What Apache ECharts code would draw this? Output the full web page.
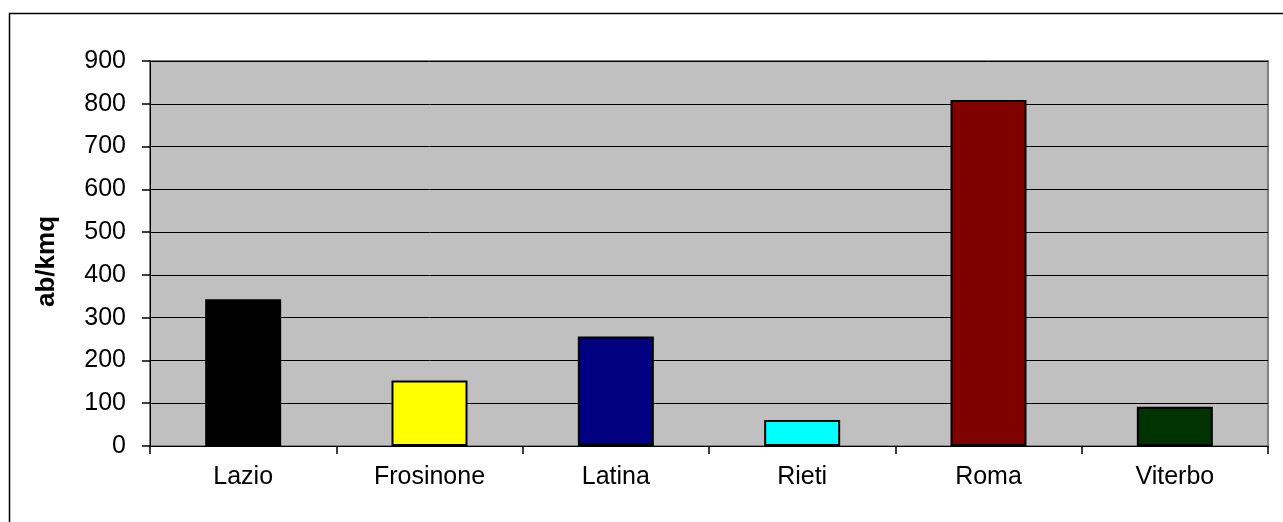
<!DOCTYPE html>
<html>
<head>
<meta charset="utf-8">
<script src="https://cdn.jsdelivr.net/npm/echarts@6/dist/echarts.min.js"></script>
<style>html,body{margin:0;padding:0;background:#fff;}#c{width:1283px;height:522px;}</style>
</head>
<body>
<div id="c"></div>
<script>
var categories = ['Lazio', 'Frosinone', 'Latina', 'Rieti', 'Roma', 'Viterbo'];
var values = [343, 153, 256, 61, 809, 92];
var barColors = ['#000000', '#FFFF00', '#000080', '#00FFFF', '#800000', '#003300'];
var yTicks = [0, 100, 200, 300, 400, 500, 600, 700, 800, 900];

var chart = echarts.init(document.getElementById('c'), null, {renderer: 'canvas'});
chart.setOption({
  animation: false,
  backgroundColor: '#ffffff',
  graphic: [{
    type: 'rect', silent: true,
    shape: {x: 9.5, y: 13.5, width: 1300, height: 540},
    style: {fill: 'none', stroke: '#000000', lineWidth: 1.5}
  }],
  grid: {
    left: 150, top: 61, right: 15, bottom: 76,
    show: true, backgroundColor: '#C0C0C0', borderColor: '#808080', borderWidth: 2
  },
  xAxis: {
    type: 'category',
    data: categories,
    axisLine: {lineStyle: {color: '#000000', width: 1}},
    axisTick: {show: true, length: 8, lineStyle: {color: '#000000', width: 1.5}},
    axisLabel: {color: '#000000', fontFamily: 'Liberation Sans', fontSize: 25, margin: 19}
  },
  yAxis: {
    type: 'value', min: 0, max: 900, interval: 100,
    name: 'ab/kmq', nameLocation: 'middle', nameGap: 90, nameRotate: 90,
    nameTextStyle: {color: '#000000', fontFamily: 'Liberation Sans', fontSize: 26, fontWeight: 'bold', padding: [0, 16, 0, 0]},
    axisLine: {show: true, lineStyle: {color: '#000000', width: 1}},
    axisTick: {show: true, length: 8, lineStyle: {color: '#000000', width: 1.5}},
    axisLabel: {color: '#000000', fontFamily: 'Liberation Sans', fontSize: 25, margin: 24,
      formatter: function (v) { return yTicks.indexOf(v) >= 0 ? String(v) : ''; }},
    splitLine: {show: true, lineStyle: {color: '#000000', width: 1}}
  },
  series: [{
    type: 'bar',
    barWidth: 76,
    data: values.map(function (v, i) {
      return {value: v, itemStyle: {color: barColors[i], borderColor: '#000000', borderWidth: 2}};
    })
  }]
});
</script>
</body>
</html>
